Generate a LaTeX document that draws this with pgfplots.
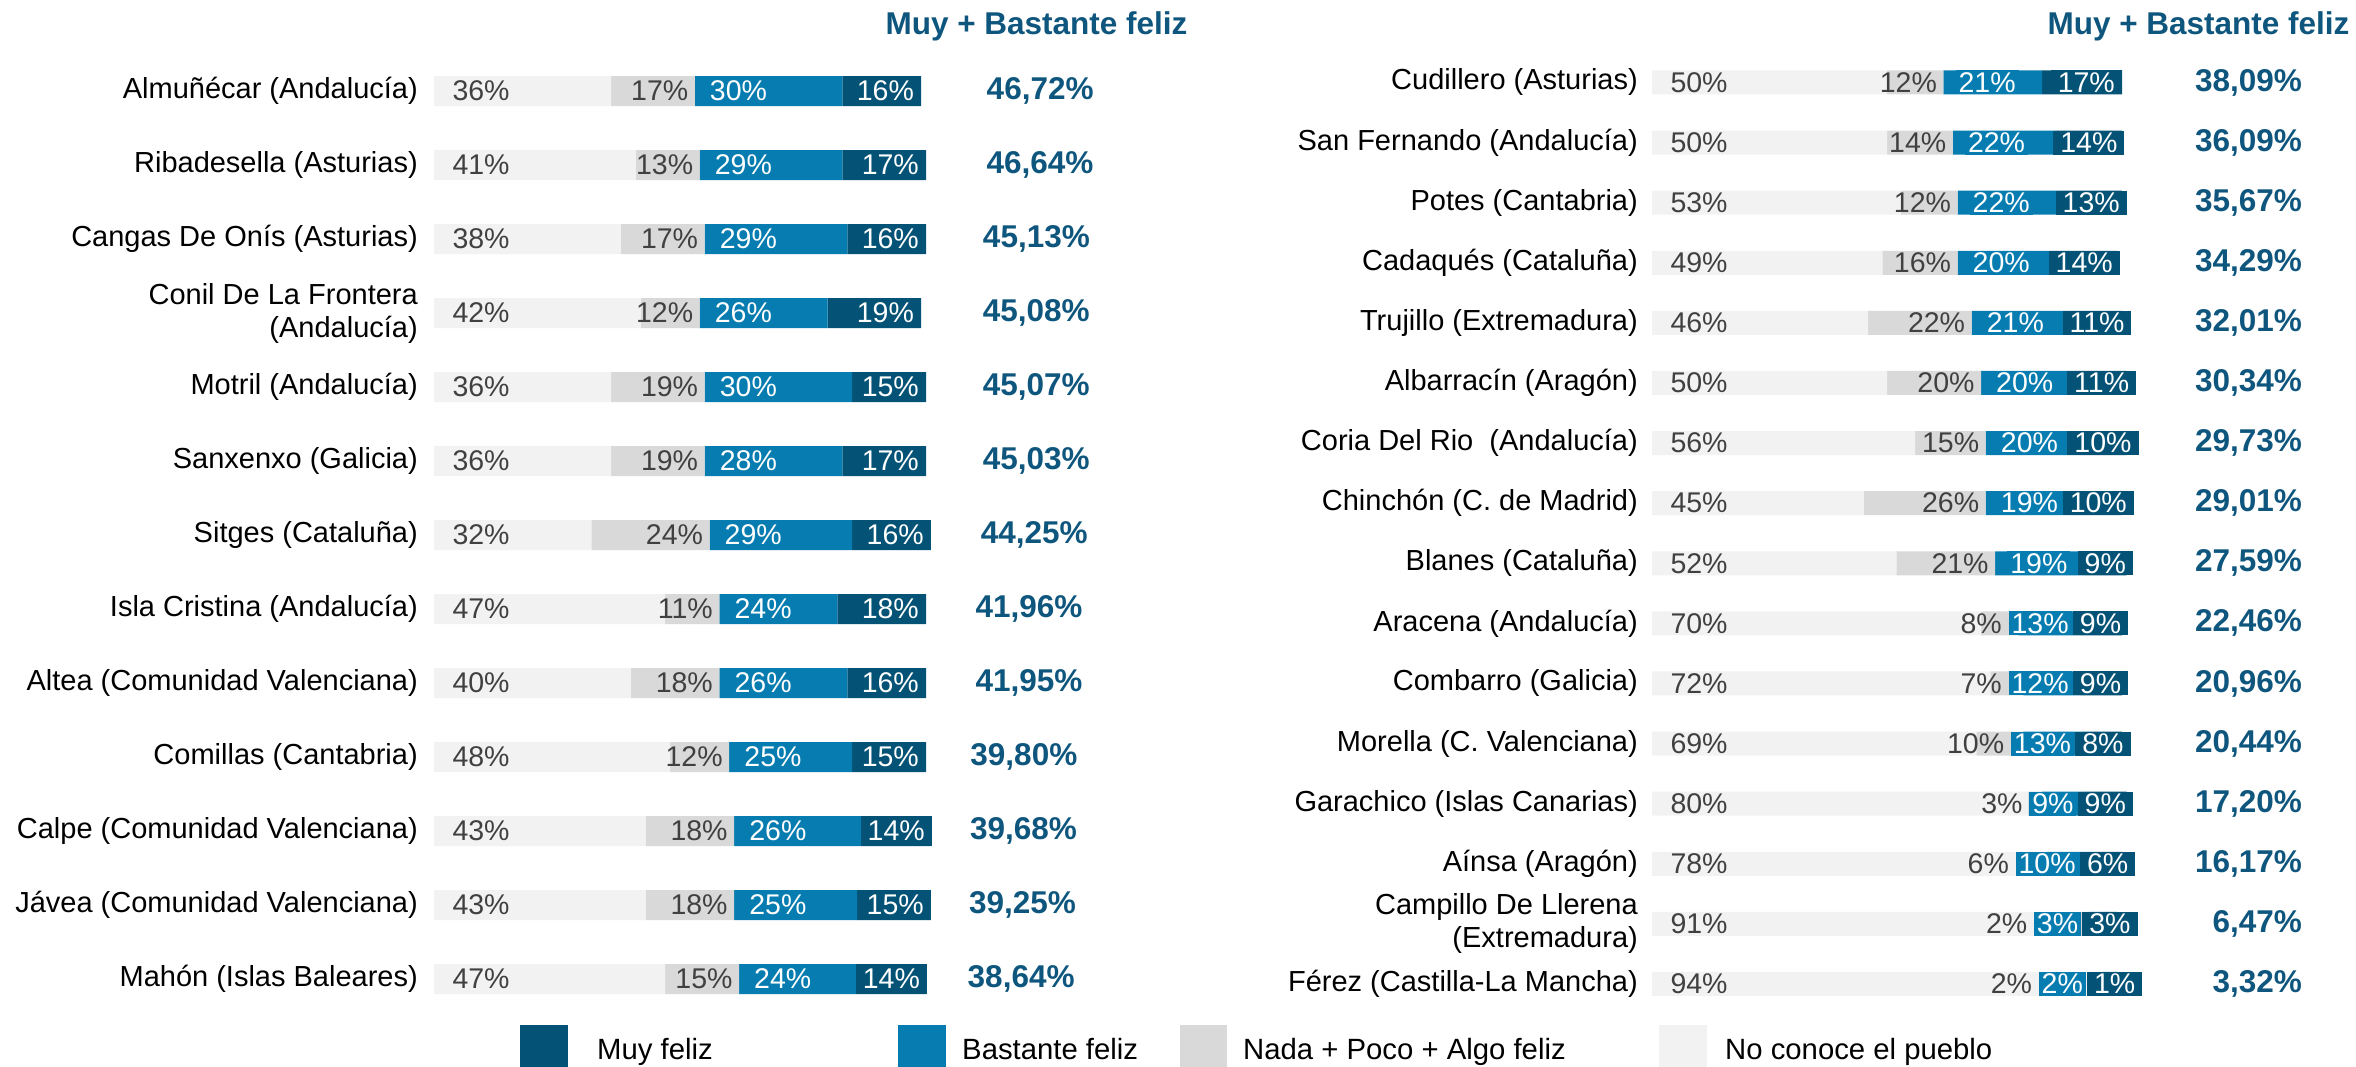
\documentclass[border=0pt]{standalone}
\usepackage{fontspec}
\setmainfont{Liberation Sans}
\usepackage{pgfplots}
\usepackage{pgfplotstable}
\pgfplotsset{compat=1.18}

\definecolor{cMuy}{RGB}{4,83,118}
\definecolor{cBast}{RGB}{6,124,176}
\definecolor{cNada}{RGB}{217,217,217}
\definecolor{cNo}{RGB}{242,242,242}
\definecolor{cVal}{RGB}{14,86,125}
\definecolor{cTxt}{RGB}{64,64,64}

% no = No conoce, nada = Nada+Poco+Algo, bast = Bastante, muy = Muy, tot = Muy+Bastante
\pgfplotstableread{
y no nada bast muy tot
0  36 17 30 16 46.72
1  41 13 29 17 46.64
2  38 17 29 16 45.13
3  42 12 26 19 45.08
4  36 19 30 15 45.07
5  36 19 28 17 45.03
6  32 24 29 16 44.25
7  47 11 24 18 41.96
8  40 18 26 16 41.95
9  48 12 25 15 39.80
10 43 18 26 14 39.68
11 43 18 25 15 39.25
12 47 15 24 14 38.64
}\tabL

\pgfplotstableread{
y no nada bast muy tot
0  50 12 21 17 38.09
1  50 14 22 14 36.09
2  53 12 22 13 35.67
3  49 16 20 14 34.29
4  46 22 21 11 32.01
5  50 20 20 11 30.34
6  56 15 20 10 29.73
7  45 26 19 10 29.01
8  52 21 19 9  27.59
9  70 8  13 9  22.46
10 72 7  12 9  20.96
11 69 10 13 8  20.44
12 80 3  9  9  17.20
13 78 6  10 6  16.17
14 91 2  3  3  6.47
15 94 2  2  1  3.32
}\tabR

% label positions (in % units), #2 = points per percent
\newcommand\labelpos[2]{%
  \pgfplotstablecreatecol[create col/expr={max(\thisrow{no}+\thisrow{nada}+\thisrow{bast}+\thisrow{muy},
    \thisrow{no}+\thisrow{nada}+\thisrow{bast}+0.5*\thisrow{muy}+(7+0.5*ifthenelse(\thisrow{muy}>9.5,57,41))/#2)}]{xd}{#1}%
  \pgfplotstablecreatecol[create col/expr={min(\thisrow{no}+\thisrow{nada}+12/#2,
    \thisrow{xd}-(ifthenelse(\thisrow{muy}>9.5,57,41)+ifthenelse(\thisrow{bast}>9.5,57,41)+22)/#2)}]{xb}{#1}%
  \pgfplotstablecreatecol[create col/expr={min(\thisrow{no}+\thisrow{nada},\thisrow{xb})}]{xg}{#1}%
}
\labelpos{\tabL}{4.92}
\labelpos{\tabR}{4.7}

\pgfplotsset{
  frame/.style={
    scale only axis, anchor=south west,
    xmin=0, xmax=100, y dir=reverse,
    enlargelimits=false, clip=false,
    axis line style={draw=none}, major tick length=0pt, tick style={draw=none},
    xtick=\empty,
    /pgf/number format/assume math mode=true,
  },
  panelL/.style={frame, at={(434pt,50pt)}, width=492pt, height=962pt,
    ymin=-0.5, ymax=12.5},
  panelR/.style={frame, at={(1652pt,52pt)}, width=470pt, height=961.6pt,
    ymin=-0.5, ymax=15.5},
  lbl/.style={only marks, mark=*, mark size=0pt, mark options={draw=none, fill=none},
    point meta=explicit,
    nodes near coords={\pgfmathprintnumber[fixed,precision=0]{\pgfplotspointmeta}\%},
    every node near coord/.append style={font=\fontsize{28.5}{30}\selectfont, inner ysep=0pt,
      text height=20.5pt, text depth=1pt}},
  val/.style={only marks, mark=*, mark size=0pt, mark options={draw=none, fill=none},
    point meta=explicit,
    nodes near coords={\pgfmathprintnumber[fixed,fixed zerofill,precision=2,use comma]{\pgfplotspointmeta}\%},
    every node near coord/.append style={font=\bfseries\fontsize{31.5}{33}\selectfont, text=cVal, inner sep=0pt}},
}

\begin{document}
\begin{tikzpicture}
% ---------- left panel: bars ----------
\begin{axis}[panelL, xbar stacked, bar width=30pt, ytick={0,...,12},
  yticklabel style={font=\fontsize{29}{33}\selectfont, align=right, inner sep=0pt, xshift=-16pt},
  yticklabels={Almuñécar (Andalucía), Ribadesella (Asturias), Cangas De Onís (Asturias),
    {Conil De La Frontera\\(Andalucía)}, Motril (Andalucía), Sanxenxo (Galicia),
    Sitges (Cataluña), Isla Cristina (Andalucía), Altea (Comunidad Valenciana),
    Comillas (Cantabria), Calpe (Comunidad Valenciana), Jávea (Comunidad Valenciana),
    Mahón (Islas Baleares)}]
\addplot[fill=cNo, draw=none] table[x=no, y=y]{\tabL};
\addplot[fill=cNada, draw=none] table[x=nada, y=y]{\tabL};
\addplot[fill=cBast, draw=none] table[x=bast, y=y]{\tabL};
\addplot[fill=cMuy, draw=none] table[x=muy, y=y]{\tabL};
\end{axis}
% ---------- left panel: labels ----------
\begin{axis}[panelL, ytick=\empty]
\addplot[lbl, nodes near coords style={anchor=west, xshift=15pt, text=cTxt}]
  table[x expr=0, y=y, meta=no]{\tabL};
\addplot[lbl, nodes near coords style={anchor=east, xshift=-3pt, text=cTxt}]
  table[x=xg, y=y, meta=nada]{\tabL};
\addplot[lbl, nodes near coords style={anchor=west, text=white, fill=cBast, inner xsep=3pt, inner ysep=4.25pt}]
  table[x=xb, y=y, meta=bast]{\tabL};
\addplot[lbl, nodes near coords style={anchor=east, text=white, fill=cMuy, inner xsep=7pt, inner ysep=4.25pt}]
  table[x=xd, y=y, meta=muy]{\tabL};
\addplot[val, nodes near coords style={anchor=center}]
  table[x expr={123.2+0.478*(\thisrow{tot}-46.72)}, y=y, meta=tot]{\tabL};
\end{axis}

% ---------- right panel: bars ----------
\begin{axis}[panelR, xbar stacked, bar width=24pt, ytick={0,...,15},
  yticklabel style={font=\fontsize{29}{33}\selectfont, align=right, inner sep=0pt, xshift=-14pt},
  yticklabels={Cudillero (Asturias), San Fernando (Andalucía), Potes (Cantabria),
    Cadaqués (Cataluña), Trujillo (Extremadura), Albarracín (Aragón),
    Coria Del Rio~ (Andalucía), Chinchón (C. de Madrid), Blanes (Cataluña),
    Aracena (Andalucía), Combarro (Galicia), Morella (C. Valenciana),
    Garachico (Islas Canarias), Aínsa (Aragón), {Campillo De Llerena\\(Extremadura)},
    Férez (Castilla-La Mancha)}]
\addplot[fill=cNo, draw=none] table[x=no, y=y]{\tabR};
\addplot[fill=cNada, draw=none] table[x=nada, y=y]{\tabR};
\addplot[fill=cBast, draw=none] table[x=bast, y=y]{\tabR};
\addplot[fill=cMuy, draw=none] table[x=muy, y=y]{\tabR};
\end{axis}
% ---------- right panel: labels ----------
\begin{axis}[panelR, ytick=\empty]
\addplot[lbl, nodes near coords style={anchor=west, xshift=15pt, text=cTxt}]
  table[x expr=0, y=y, meta=no]{\tabR};
\addplot[lbl, nodes near coords style={anchor=east, xshift=-3pt, text=cTxt}]
  table[x=xg, y=y, meta=nada]{\tabR};
\addplot[lbl, nodes near coords style={anchor=west, text=white, fill=cBast, inner xsep=3pt, inner ysep=1.25pt}]
  table[x=xb, y=y, meta=bast]{\tabR};
\addplot[lbl, nodes near coords style={anchor=east, text=white, fill=cMuy, inner xsep=7pt, inner ysep=1.25pt}]
  table[x=xd, y=y, meta=muy]{\tabR};
\addplot[val, nodes near coords style={anchor=east}]
  table[x expr=138.3, y=y, meta=tot]{\tabR};
\end{axis}

% headers
\node[anchor=base, inner sep=0pt, text=cVal, font=\bfseries\fontsize{31.5}{33}\selectfont]
  at (1036.5pt,1031pt) {Muy + Bastante feliz};
\node[anchor=base, inner sep=0pt, text=cVal, font=\bfseries\fontsize{31.5}{33}\selectfont]
  at (2198.5pt,1031pt) {Muy + Bastante feliz};

% legend
\fill[cMuy]  (520pt,-10pt) rectangle (568pt,41pt);
\fill[cBast] (898pt,-10pt) rectangle (946pt,41pt);
\fill[cNada] (1180pt,-10pt) rectangle (1227pt,41pt);
\fill[cNo]   (1659pt,-10pt) rectangle (1707pt,41pt);
\begin{scope}[every node/.style={anchor=base west, inner sep=0pt, font=\fontsize{29.3}{33}\selectfont}]
\node at (597pt,7pt) {Muy feliz};
\node at (962pt,7pt) {Bastante feliz};
\node at (1243pt,7pt) {Nada + Poco + Algo feliz};
\node at (1725pt,7pt) {No conoce el pueblo};
\end{scope}

\pgfresetboundingbox
\path[use as bounding box] (0pt,0pt) rectangle (2356pt,1066pt);
\end{tikzpicture}
\end{document}
